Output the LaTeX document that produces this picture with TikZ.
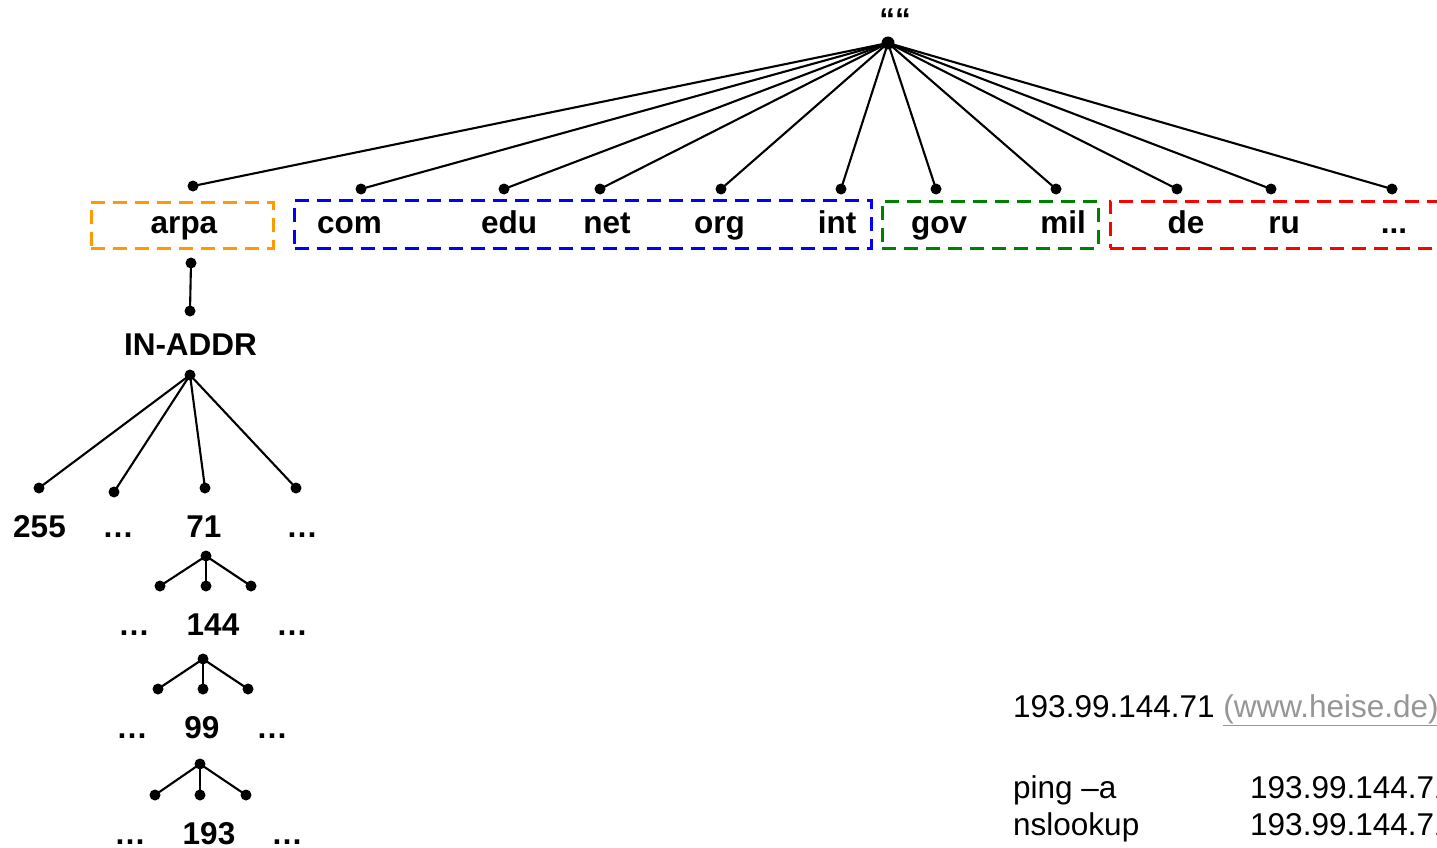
\documentclass[tikz,border=0pt]{standalone}
\usepackage{fontspec}
\setmainfont{Liberation Sans}
\definecolor{grporange}{RGB}{255,153,0}
\definecolor{grpblue}{RGB}{0,0,255}
\definecolor{grpgreen}{RGB}{0,128,0}
\definecolor{grpred}{RGB}{255,0,0}
\definecolor{linkgray}{RGB}{150,150,150}
\begin{document}
\begin{tikzpicture}[x=1pt,y=-1pt,
  dot/.style={circle,fill=black,inner sep=0pt,minimum size=11pt},
  lbl/.style={inner sep=0pt,anchor=base,font=\fontsize{31.5}{37}\selectfont\bfseries},
  txt/.style={inner sep=0pt,anchor=base west,font=\fontsize{31.5}{37}\selectfont},
  conn/.style={line width=2.1pt},
  grp/.style={draw=#1,line width=3pt,dash pattern=on 14pt off 8pt,inner sep=0pt}]
\clip (0,0) rectangle (1437,848);
% group boxes
\node[grp=grporange,minimum width=182pt,minimum height=46pt] (garpa) at (182,225) {};
\node[grp=grpblue,minimum width=577pt,minimum height=48pt] (gblue) at (583,224) {};
\node[grp=grpgreen,minimum width=216pt,minimum height=47pt] (ggreen) at (990,224.5) {};
\node[grp=grpred,minimum width=340pt,minimum height=47pt] (gred) at (1280,224.5) {};
% root
\node[lbl] (quote) at (895,31) {““};
\node[dot,minimum size=13pt] (root) at (888,43) {};
% top level dots
\node[dot] (darpa) at (193,186) {};
\node[dot] (dcom) at (361,189) {};
\node[dot] (dedu) at (504,189) {};
\node[dot] (dnet) at (600,189) {};
\node[dot] (dorg) at (721,189) {};
\node[dot] (dint) at (841,189) {};
\node[dot] (dgov) at (936,189) {};
\node[dot] (dmil) at (1056,189) {};
\node[dot] (dde) at (1177,189) {};
\node[dot] (dru) at (1271,189) {};
\node[dot] (ddots) at (1392,189) {};
\foreach \t in {darpa,dcom,dedu,dnet,dorg,dint,dgov,dmil,dde,dru,ddots}
  \draw[conn] (root.center) -- (\t.center);
% top level labels
\node[lbl] (larpa) at (184,233) {arpa};
\node[lbl] (lcom) at (349.5,233) {com};
\node[lbl] (ledu) at (509,233) {edu};
\node[lbl] (lnet) at (607,233) {net};
\node[lbl] (lorg) at (719.5,233) {org};
\node[lbl] (lint) at (837,233) {int};
\node[lbl] (lgov) at (939,233) {gov};
\node[lbl] (lmil) at (1063,233) {mil};
\node[lbl] (lde) at (1186,233) {de};
\node[lbl] (lru) at (1284,233) {ru};
\node[lbl] (ldots) at (1394,233) {...};
% arpa -> IN-ADDR
\node[dot] (arpab) at (191,263) {};
\node[dot] (inaddrt) at (190,311) {};
\draw[conn] (arpab.center) -- (inaddrt.center);
\node[lbl] (linaddr) at (190.5,355) {IN-ADDR};
\node[dot] (inaddrb) at (190,375) {};
% IN-ADDR children
\node[dot] (d255) at (39,488) {};
\node[dot] (dl1) at (114,492) {};
\node[dot] (d71) at (205,488) {};
\node[dot] (dr1) at (296,488) {};
\foreach \t in {d255,dl1,d71,dr1}
  \draw[conn] (inaddrb.center) -- (\t.center);
\node[lbl] (l255) at (39.5,537) {255};
\node[lbl] (ll1) at (118,537) {…};
\node[lbl] (l71) at (204,537) {71};
\node[lbl] (lr1) at (302,537) {…};
% 71 -> 144 level
\node[dot] (p71) at (206,556) {};
\node[dot] (a1) at (160,586) {};
\node[dot] (b1) at (206,586) {};
\node[dot] (c1) at (251,586) {};
\foreach \t in {a1,b1,c1} \draw[conn] (p71.center) -- (\t.center);
\node[lbl] (ll2) at (134,635) {…};
\node[lbl] (l144) at (213,635) {144};
\node[lbl] (lr2) at (292,635) {…};
% 144 -> 99 level
\node[dot] (p144) at (203,659) {};
\node[dot] (a2) at (158,689) {};
\node[dot] (b2) at (203,689) {};
\node[dot] (c2) at (248,689) {};
\foreach \t in {a2,b2,c2} \draw[conn] (p144.center) -- (\t.center);
\node[lbl] (ll3) at (132,738) {…};
\node[lbl] (l99) at (202,738) {99};
\node[lbl] (lr3) at (272,738) {…};
% 99 -> 193 level
\node[dot] (p99) at (200,764) {};
\node[dot] (a3) at (155,795) {};
\node[dot] (b3) at (200,795) {};
\node[dot] (c3) at (246,795) {};
\foreach \t in {a3,b3,c3} \draw[conn] (p99.center) -- (\t.center);
\node[lbl] (ll4) at (130,844) {…};
\node[lbl] (l193) at (209,844) {193};
\node[lbl] (lr4) at (287,844) {…};
% right-bottom text
\node[txt] (ipline) at (1013,717) {193.99.144.71 {\color{linkgray}\underline{(www.heise.de)}}};
\node[txt] (ping) at (1013,798) {ping –a};
\node[txt] (pingip) at (1250,798) {193.99.144.71};
\node[txt] (nsl) at (1013,835) {nslookup};
\node[txt] (nslip) at (1250,835) {193.99.144.71};
\end{tikzpicture}
\end{document}
